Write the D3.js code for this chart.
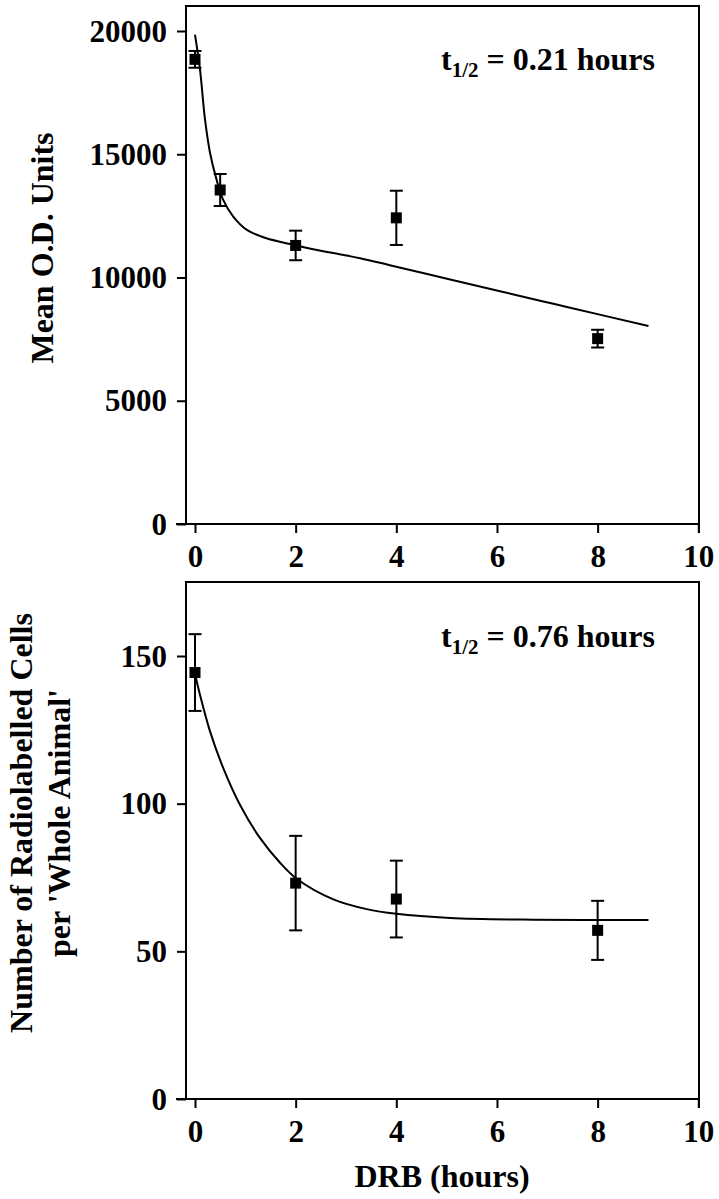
<!DOCTYPE html>
<html>
<head>
<meta charset="utf-8">
<script src="https://cdn.jsdelivr.net/npm/d3@7"></script>
<style>
  html, body { margin: 0; padding: 0; background: #fff; }
  svg { display: block; }
  text { font-family: "Liberation Serif", "Times New Roman", serif; font-weight: bold; fill: #000; }
</style>
</head>
<body>
<svg id="chart" width="719" height="1199"></svg>
<script>
// ---------- data ----------
const xTicks = [0, 2, 4, 6, 8, 10];

// Panel A: Mean O.D. Units
const topTimes = [0, 0.5, 2, 4, 8];
const topMeans = [18850, 13550, 11300, 12420, 7520];
const topErrors = [340, 650, 600, 1100, 360];
const topYTicks = [0, 5000, 10000, 15000, 20000];
const topCurveT = [0, 0.1, 0.2, 0.3, 0.43, 0.56, 0.76, 1.03, 1.42, 1.89, 2.3, 3.28, 3.87, 5.07, 6.06, 6.92, 7.39, 9.01];
const topCurveY = [19850, 18420, 16390, 15040, 13960, 13150, 12470, 11930, 11590, 11360, 11170, 10780, 10500, 9920, 9445, 9030, 8805, 8030];
const topLabel = "Mean O.D. Units";
const topHalfLife = "0.21";

// Panel B: Number of radiolabelled cells
const botTimes = [0, 2, 4, 8];
const botMeans = [144.4, 73.1, 67.7, 57.1];
const botErrors = [13, 16, 13, 10];
const botYTicks = [0, 50, 100, 150];
const botCurveT = [0, 0.1, 0.3, 0.56, 0.89, 1.29, 1.69, 2.02, 2.75, 3.41, 4.0, 5.07, 6.72, 9.01];
const botCurveY = [144, 136.8, 124.4, 112.1, 99.7, 88.4, 80.0, 74.6, 67.6, 64.3, 62.7, 61.3, 60.7, 60.6];
const botLabelLines = ["Number of Radiolabelled Cells", "per 'Whole Animal'"];
const botHalfLife = "0.76";

const xTitle = "DRB (hours)";

// ---------- layout ----------
const svg = d3.select("#chart");
const left = 186, right = 699;
const x = d3.scaleLinear().domain([0, 10]).range([195, 698.3]);

const panels = [
  { top: 6, bottom: 524, yMax: 20000, yTopPx: 31,
    times: topTimes, means: topMeans, errs: topErrors, ticks: topYTicks,
    cT: topCurveT, cY: topCurveY, half: topHalfLife, annY: 70 },
  { top: 582, bottom: 1099, yMax: 150, yTopPx: 656,
    times: botTimes, means: botMeans, errs: botErrors, ticks: botYTicks,
    cT: botCurveT, cY: botCurveY, half: botHalfLife, annY: 647 }
];

panels.forEach((p, i) => {
  const y = d3.scaleLinear().domain([0, p.yMax]).range([p.bottom, p.yTopPx]);
  const g = svg.append("g");

  // frame
  g.append("path")
    .attr("d", `M${left},${p.bottom}V${p.top}H${right}V${p.bottom + 9}`)
    .attr("fill", "none").attr("stroke", "#000").attr("stroke-width", 2);
  g.append("line")
    .attr("x1", left - 10).attr("x2", right).attr("y1", p.bottom).attr("y2", p.bottom)
    .attr("stroke", "#000").attr("stroke-width", 2);

  // y axis
  const ya = g.append("g").attr("transform", `translate(${left},0)`)
    .call(d3.axisLeft(y).tickValues(p.ticks).tickFormat(d3.format("d")).tickSize(9).tickPadding(10).tickSizeOuter(0));
  ya.select(".domain").remove();
  ya.selectAll(".tick line").attr("stroke-width", 2);
  ya.selectAll(".tick text").attr("font-size", 31).attr("font-family", null).attr("dy", "0.33em");

  // x axis
  const xa = g.append("g").attr("transform", `translate(0,${p.bottom})`)
    .call(d3.axisBottom(x).tickValues(xTicks).tickFormat(d3.format("d")).tickSize(9).tickSizeOuter(0));
  xa.select(".domain").remove();
  xa.selectAll(".tick line").attr("stroke-width", 2);
  xa.selectAll(".tick text").attr("font-size", 31).attr("font-family", null).attr("y", 43).attr("dy", null);

  // fitted curve
  const pts = p.cT.map((t, k) => [t, p.cY[k]]);
  g.append("path")
    .datum(pts)
    .attr("d", d3.line().x(d => x(d[0])).y(d => y(d[1])).curve(d3.curveCatmullRom.alpha(0.5)))
    .attr("fill", "none").attr("stroke", "#000").attr("stroke-width", 2);

  // error bars
  const data = p.times.map((t, k) => ({ t, m: p.means[k], e: p.errs[k] }));
  const eb = g.selectAll("g.eb").data(data).enter().append("g").attr("class", "eb");
  eb.append("line")
    .attr("x1", d => x(d.t)).attr("x2", d => x(d.t))
    .attr("y1", d => y(d.m + d.e)).attr("y2", d => y(d.m - d.e))
    .attr("stroke", "#000").attr("stroke-width", 2);
  eb.append("line")
    .attr("x1", d => x(d.t) - 6.5).attr("x2", d => x(d.t) + 6.5)
    .attr("y1", d => y(d.m + d.e)).attr("y2", d => y(d.m + d.e))
    .attr("stroke", "#000").attr("stroke-width", 2);
  eb.append("line")
    .attr("x1", d => x(d.t) - 6.5).attr("x2", d => x(d.t) + 6.5)
    .attr("y1", d => y(d.m - d.e)).attr("y2", d => y(d.m - d.e))
    .attr("stroke", "#000").attr("stroke-width", 2);
  eb.append("rect")
    .attr("x", d => x(d.t) - 5.5).attr("y", d => y(d.m) - 5.5)
    .attr("width", 11).attr("height", 11).attr("fill", "#000");

  // annotation
  const ann = g.append("text").attr("x", 441).attr("y", p.annY).attr("font-size", 32);
  ann.append("tspan").text("t");
  ann.append("tspan").attr("font-size", 21).attr("dy", 7).text("1/2");
  ann.append("tspan").attr("dy", -7).text(" = " + p.half + " hours");
});

// y titles
svg.append("text")
  .attr("transform", "translate(53,248) rotate(-90)")
  .attr("text-anchor", "middle").attr("font-size", 32)
  .text(topLabel);

svg.append("text")
  .attr("transform", "translate(32,823) rotate(-90)")
  .attr("text-anchor", "middle").attr("font-size", 32)
  .text(botLabelLines[0]);
svg.append("text")
  .attr("transform", "translate(70,823) rotate(-90)")
  .attr("text-anchor", "middle").attr("font-size", 32)
  .text(botLabelLines[1]);

// x title
svg.append("text")
  .attr("x", 442).attr("y", 1187)
  .attr("text-anchor", "middle").attr("font-size", 32)
  .text(xTitle);
</script>
</body>
</html>
